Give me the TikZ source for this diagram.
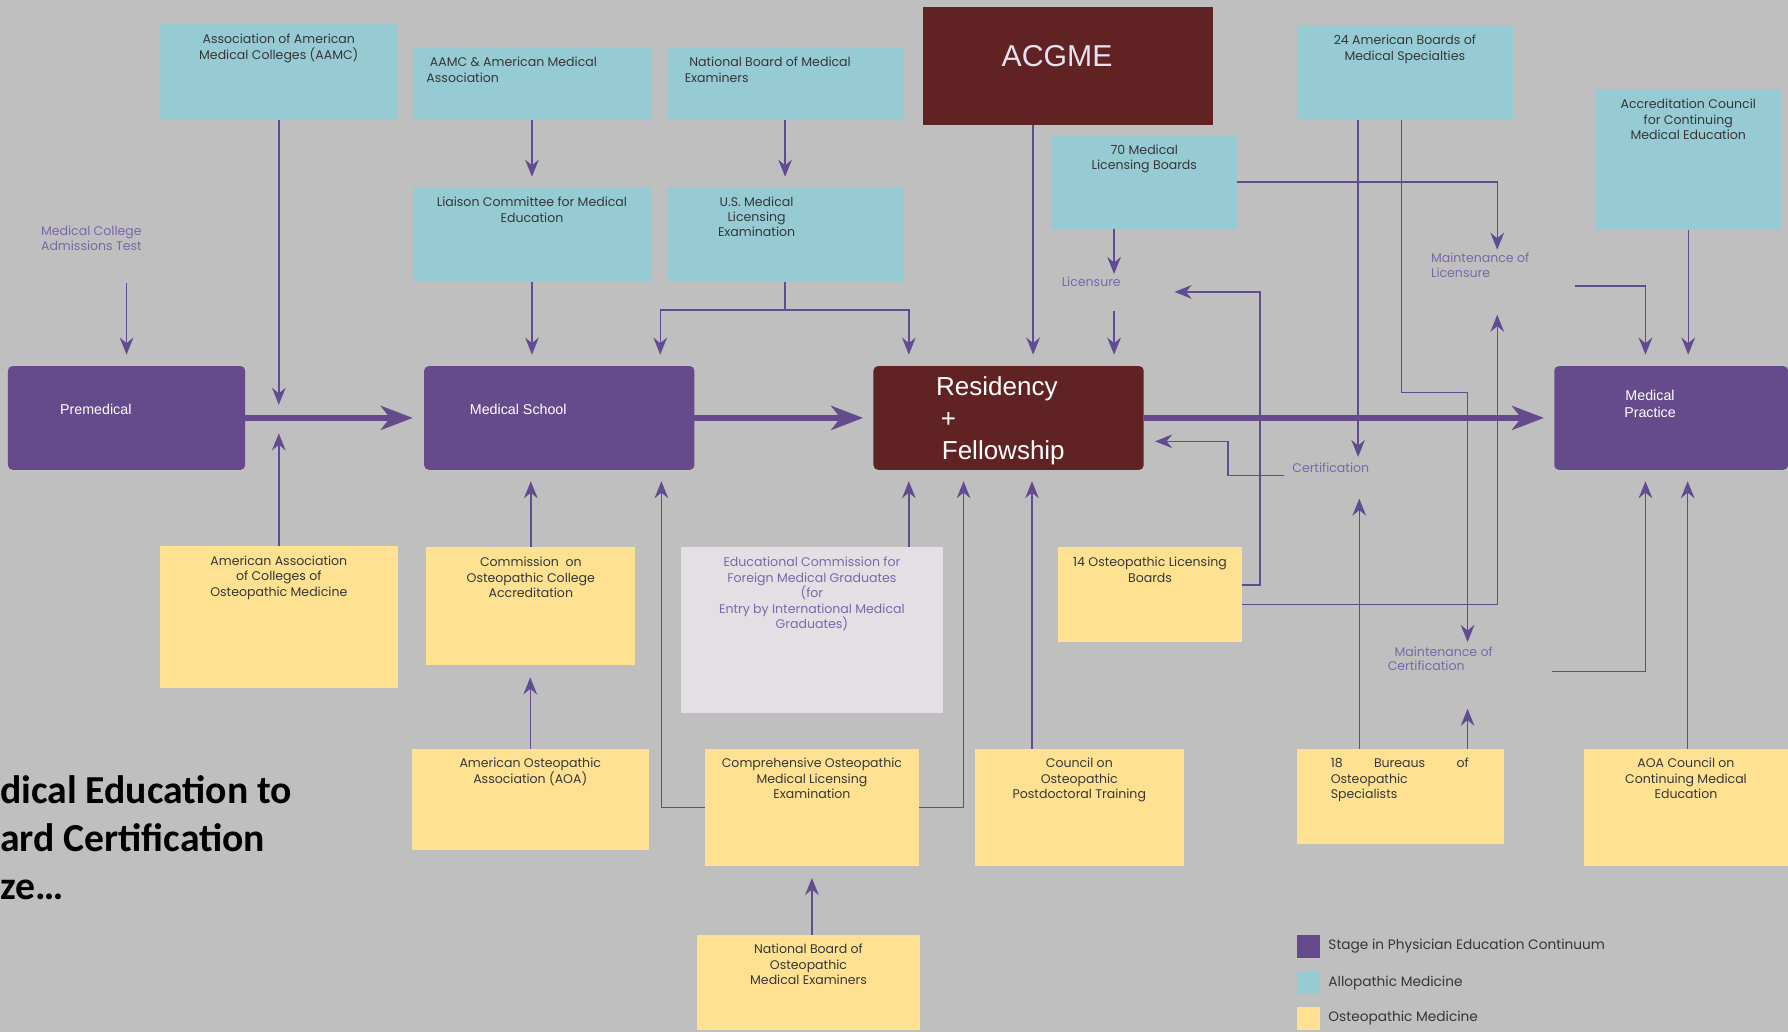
\documentclass[tikz,border=0pt]{standalone}
\usepackage{fontspec}
\setmainfont{Poppins}
\newfontfamily\arialfont{Liberation Sans}
\newfontfamily\titlefont{Carlito}
\usetikzlibrary{arrows.meta,positioning}

\definecolor{bggray}{RGB}{191,191,191}
\definecolor{allocyan}{RGB}{150,203,212}
\definecolor{osteoyel}{RGB}{255,225,146}
\definecolor{stagepur}{RGB}{101,75,140}
\definecolor{gmered}{RGB}{97,34,35}
\definecolor{ecfmggray}{RGB}{227,223,229}
\definecolor{lblpur}{RGB}{123,104,168}
\definecolor{linepur}{RGB}{98,76,145}
\definecolor{boxtxt}{RGB}{55,55,55}
\definecolor{acgmetxt}{RGB}{228,226,240}

\begin{document}
\begin{tikzpicture}[x=1pt, y=-1pt,
    every node/.style={inner sep=0pt, outer sep=0pt},
    wh/.style 2 args={minimum width=#1pt, minimum height=#2pt},
    allo/.style={fill=allocyan},
    osteo/.style={fill=osteoyel},
    stage/.style={fill=stagepur, rounded corners=4pt, wh={237}{91}},
    boxtext/.style={text=boxtxt, font=\fontsize{11}{13.6}\selectfont, align=center},
    stagetext/.style={text=white, font=\arialfont\fontsize{12.5}{14.5}\selectfont, align=center},
    lbl/.style={text=lblpur, font=\fontsize{11}{13}\selectfont, align=left},
    keytext/.style={text=boxtxt, font=\fontsize{12}{14}\selectfont},
    arr/.style={draw=linepur, line width=1.3pt, -{Stealth[length=15pt,width=12pt,inset=5pt]}},
    mainarr/.style={draw=stagepur, line width=5pt, -{Stealth[length=28pt,width=21pt,inset=8pt]}}]

    \useasboundingbox (0,0) rectangle (1568,905);
    \fill[bggray] (0,0) rectangle (1568,905);

    % allopathic boxes, top
    \node[allo, wh={209}{84}] (aamc) at (244.5,63) {};
    \node[boxtext, below=9pt of aamc.north] (aamct) {Association of American\\Medical Colleges (AAMC)};
    \node[allo, wh={209}{64}] (aama) at (466.5,73) {};
    \node[boxtext, align=left, below right=9pt and 12pt of aama.north west] (aamat) {\hspace*{3pt}AAMC \& American Medical\\Association};
    \node[allo, wh={208}{64}] (nbme) at (688.5,73) {};
    \node[boxtext, align=left, below right=9pt and 16pt of nbme.north west] (nbmet) {\hspace*{4pt}National Board of Medical\\Examiners};
    \node[fill=gmered, wh={255}{104}] (acgme) at (936.5,58) {};
    \node[text=acgmetxt, font=\arialfont\fontsize{26.5}{30}\selectfont] (acgmet) at (927,49) {ACGME};
    \node[allo, wh={190}{83}] (abms) at (1232,63.5) {};
    \node[boxtext, below=9pt of abms.north] (abmst) {24 American Boards of\\Medical Specialties};
    \node[allo, wh={163}{124}] (accme) at (1480.5,140) {};
    \node[boxtext, below=9pt of accme.north] (accmet) {Accreditation Council\\for Continuing\\Medical Education};

    \node[allo, wh={209}{83}] (lcme) at (466.5,205.5) {};
    \node[boxtext, below=9pt of lcme.north] (lcmet) {Liaison Committee for Medical\\Education};
    \node[allo, wh={208}{83}] (usmle) at (688.5,205.5) {};
    \node[boxtext, below=9pt of usmle.north, xshift=-25pt, font=\fontsize{11}{12.8}\selectfont] (usmlet) {U.S. Medical\\Licensing\\Examination};
    \node[allo, wh={163}{83}] (fsmb) at (1003.5,159.5) {};
    \node[boxtext, below=9pt of fsmb.north] (fsmbt) {70 Medical\\Licensing Boards};

    % stages
    \node[stage, wh={208}{91}] (premed) at (111,366.5) {};
    \node[stagetext] (premedt) at (84,359) {Premedical};
    \node[stage] (medschool) at (490.5,366.5) {};
    \node[stagetext] (medschoolt) at (454.5,359) {Medical School};
    \node[stage, fill=gmered] (residency) at (884.5,366.5) {};
    \node[stagetext, align=left, anchor=west, font=\arialfont\fontsize{22.8}{27.75}\selectfont] (residencyt) at (821,369)
        {Residency\\\hspace*{4pt}+\\\hspace*{5pt}Fellowship};
    \node[stage, wh={205}{91}] (practice) at (1465.5,366.5) {};
    \node[stagetext] (practicet) at (1447,354) {Medical\\Practice};

    % osteopathic boxes
    \node[osteo, wh={209}{124}] (aacom) at (244.5,541) {};
    \node[boxtext, below=8.5pt of aacom.north] (aacomt) {American Association\\of Colleges of\\Osteopathic Medicine};
    \node[osteo, wh={183}{103}] (coca) at (465.5,531.5) {};
    \node[boxtext, below=8.5pt of coca.north] (cocat) {Commission\ \ on\\Osteopathic College\\Accreditation};
    \node[fill=ecfmggray, wh={230}{145}] (ecfmg) at (712,552.5) {};
    \node[boxtext, text=lblpur, below=8.5pt of ecfmg.north] (ecfmgt)
        {Educational Commission for\\Foreign Medical Graduates\\(for\\Entry by International Medical\\Graduates)};
    \node[osteo, wh={161}{83}] (aoalb) at (1008.5,521.5) {};
    \node[boxtext, below=8.5pt of aoalb.north] (aoalbt) {14 Osteopathic Licensing\\Boards};

    \node[osteo, wh={208}{88}] (aoa) at (465,701) {};
    \node[boxtext, below=8pt of aoa.north] (aoat) {American Osteopathic\\Association (AOA)};
    \node[osteo, wh={188}{102}] (comlex) at (712,708) {};
    \node[boxtext, below=8pt of comlex.north] (comlext) {Comprehensive Osteopathic\\Medical Licensing\\Examination};
    \node[osteo, wh={183}{102}] (copt) at (946.5,708) {};
    \node[boxtext, below=8pt of copt.north] (coptt) {Council on\\Osteopathic\\Postdoctoral Training};
    \node[osteo, wh={182}{83}] (bos) at (1228,698.5) {};
    \node[boxtext, align=left, below right=8pt and 30pt of bos.north west] (bost)
        {\makebox[121pt][l]{18\hfill Bureaus\hfill of}\\Osteopathic\\Specialists};
    \node[osteo, wh={179}{102}] (aoaccme) at (1478.5,708) {};
    \node[boxtext, below=8pt of aoaccme.north] (aoaccmet) {AOA Council on\\Continuing Medical\\Education};
    \node[osteo, wh={196}{83}] (nbome) at (709,861.5) {};
    \node[boxtext, below=8pt of nbome.north] (nbomet) {National Board of\\Osteopathic\\Medical Examiners};

    % labels on the arrows
    \node[lbl, anchor=north west] (mcat) at (36,198.5) {Medical College\\Admissions Test};
    \node[lbl] (licensure) at (957,247.5) {Licensure};
    \node[lbl, anchor=north west] (mol) at (1255,222) {Maintenance of\\Licensure};
    \node[lbl] (cert) at (1167,410) {Certification};
    \node[lbl, anchor=north west] (moc) at (1217,567) {\hspace*{6pt}Maintenance of\\Certification};

    % title, cut off at the left
    \node[font=\titlefont\bfseries\fontsize{34.8}{42}\selectfont, align=left, anchor=north west] (title) at (0,680)
        {dical Education to\\ard Certification\\ze…};

    % key
    \node[fill=stagepur, wh={21}{20}] (key1) at (1147.5,830) {};
    \node[fill=allocyan, wh={21}{20}] (key2) at (1147.5,862) {};
    \node[fill=osteoyel, wh={21}{20}] (key3) at (1147.5,893) {};
    \node[keytext, right=7pt of key1] (key1t) {Stage in Physician Education Continuum};
    \node[keytext, right=7pt of key2] (key2t) {Allopathic Medicine};
    \node[keytext, right=7pt of key3] (key3t) {Osteopathic Medicine};

    % free ends and split points
    \coordinate (aamcin) at (244.5,355);
    \coordinate (aacomin) at (244.5,380);
    \coordinate (mcatout) at (111,248);
    \coordinate (usmlesplit) at (688.5,272);
    \coordinate (molin) at (1313,219);
    \coordinate (molup) at (1313,276);
    \coordinate (licin) at (1030,256);
    \coordinate (molout) at (1381,251);
    \coordinate (mocout) at (1361,589);
    \coordinate (mocin) at (1287,563);
    \coordinate (certout) at (1126,417);
    \coordinate (acgmeout) at ([xshift=-30.5pt]acgme.south);
    \coordinate (fsmbout) at ([xshift=-26.5pt]fsmb.south);
    \coordinate (abmscert) at ([xshift=-41pt]abms.south);
    \coordinate (abmsmoc) at ([xshift=-3pt]abms.south);
    \coordinate (aoalblic) at ([yshift=8.5pt]aoalb.east);
    \coordinate (aoalbmol) at ([yshift=-8.5pt]aoalb.east);
    \coordinate (aoaccmeout) at ([xshift=1.5pt]aoaccme.north);
    \coordinate (boscert) at ([xshift=-36pt]bos.north);
    \coordinate (bosmoc) at ([xshift=59pt]bos.north);
    \coordinate (coptout) at ([xshift=-41.5pt]copt.north);
    \coordinate (ecfmgout) at ([xshift=85pt]ecfmg.north);
    \coordinate (nbomeout) at ([xshift=3pt]nbome.north);

    % thin connectors
    \draw[arr] (aamc.south) -- (aamcin);
    \draw[arr] (aacom.north) -- (aacomin);
    \draw[arr] (mcatout) -- ([yshift=10pt]premed.north);
    \draw[arr, shorten >=9pt] (aama.south) -- (lcme.north);
    \draw[arr, shorten >=10pt] (lcme.south) -- (lcme.south |- medschool.north);
    \draw[arr, shorten >=9pt] (nbme.south) -- (usmle.north);
    \draw[arr] (usmle.south) -- (usmlesplit) -| ([xshift=-30pt,yshift=10pt]medschool.north east);
    \draw[arr] (usmlesplit) -| ([xshift=31pt,yshift=10pt]residency.north west);
    \draw[arr, shorten >=10pt] (acgmeout) -- (acgmeout |- residency.north);
    \draw[arr, shorten >=3pt] (fsmbout) -- (fsmbout |- licensure.north);
    \draw[arr, shorten <=21pt, shorten >=10pt] (fsmbout |- licensure.south) -- (fsmbout |- residency.north);
    \draw[arr] (fsmb.east) -| (molin);
    \draw[arr, shorten >=5pt] (abmscert) -- (abmscert |- cert.north);
    \draw[arr] (abmsmoc) -- ++(0,239) -| (mocin);
    \draw[arr] (aoalblic) -- ++(16,0) |- (licin);
    \draw[arr] (aoalbmol) -| (molup);
    \draw[arr] (certout) -- ++(-49,0) |- ([xshift=10pt,yshift=-20.5pt]residency.east);
    \draw[arr] (molout) -| ([xshift=-22.5pt,yshift=10pt]practice.north);
    \draw[arr, shorten >=10pt] (accme.south) -- (accme.south |- practice.north);
    \draw[arr] (mocout) -| ([xshift=-22.5pt,yshift=-10pt]practice.south);
    \draw[arr, shorten >=10pt] (aoaccmeout) -- (aoaccmeout |- practice.south);
    \draw[arr, shorten >=23pt] (boscert) -- (boscert |- cert.south);
    \draw[arr, shorten >=33pt] (bosmoc) -- (bosmoc |- moc.south);
    \draw[arr, shorten >=10pt] (coptout) -- (coptout |- residency.south);
    \draw[arr] (comlex.west) -| ([xshift=-29pt,yshift=-10pt]medschool.south east);
    \draw[arr] (comlex.east) -| ([xshift=79pt,yshift=-10pt]residency.south west);
    \draw[arr, shorten >=10pt] (ecfmgout) -- (ecfmgout |- residency.south);
    \draw[arr, shorten >=10pt] (coca.north) -- (coca.north |- medschool.south);
    \draw[arr, shorten >=11pt] (aoa.north) -- (aoa.north |- coca.south);
    \draw[arr, shorten >=11pt] (nbomeout) -- (nbomeout |- comlex.south);

    % main stage arrows
    \draw[mainarr, shorten >=10pt] (premed) -- (medschool);
    \draw[mainarr, shorten >=9pt] (medschool) -- (residency);
    \draw[mainarr, shorten >=9pt] (residency) -- (practice);
\end{tikzpicture}
\end{document}
